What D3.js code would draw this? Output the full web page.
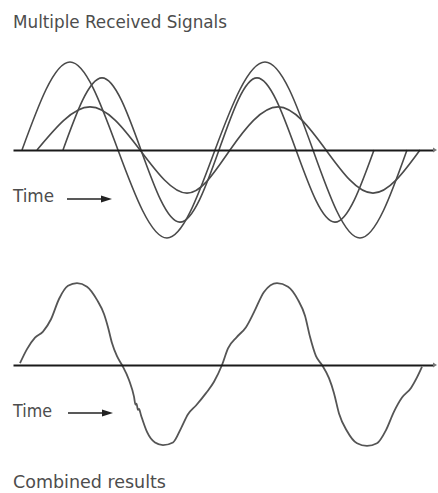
<!DOCTYPE html>
<html>
<head>
<meta charset="utf-8">
<script src="https://cdn.jsdelivr.net/npm/d3@7"></script>
<style>
  html, body { margin: 0; padding: 0; background: #fff; }
  svg { display: block; }
  .lbl { font-family: "DejaVu Sans Condensed", "Liberation Sans Narrow", "DejaVu Sans", sans-serif; font-stretch: condensed; fill: #4d4d4d; }
</style>
</head>
<body>
<svg id="chart" width="438" height="493"></svg>
<script>
// Time positions (ms) and amplitudes (V) of the key points of each received signal
const signalA = [[9,0],[57,1],[105,0],[154,-1],[202,0],[252,1],[300,0],[347,-1],[394,0]];
const signalB = [[50,0],[89,0.82],[128,0],[167,-0.82],[206,0],[244,0.82],[283,0],[322,-0.82],[361,0]];
const signalC = [[24,0],[77,0.49],[127,0],[174,-0.49],[217,0],[265,0.49],[313,0],[360,-0.49],[407,0]];

// Combined signal read at finer time steps
const combined = [
  [7,0.02],[14,0.18],[22,0.31],[30,0.38],[38,0.52],[46,0.75],[55,0.9],[64,0.93],[74,0.89],
  [84,0.74],[91,0.58],[95,0.43],[99,0.25],[104,0.1],[109,0],[116,-0.17],[121,-0.36],
  [122.5,-0.45],[123.5,-0.44],[125,-0.51],[126,-0.5],[128,-0.57],[134,-0.76],[142,-0.88],
  [150,-0.91],[160,-0.88],[168,-0.72],[175,-0.56],[183,-0.46],[193,-0.32],[201,-0.19],[209,0],
  [215,0.19],[224,0.32],[233,0.43],[241,0.6],[251,0.83],[264,0.93],[275,0.89],[285,0.74],
  [292,0.56],[297,0.32],[303,0.1],[309,0],[316,-0.15],[321,-0.32],[326,-0.55],[334,-0.75],
  [344,-0.89],[354,-0.92],[364,-0.89],[373,-0.74],[381,-0.53],[389,-0.37],[398,-0.26],
  [404,-0.14],[409,-0.02]
];

const timeDomain = [0, 420];
const ampDomain = [-1, 1];

const svg = d3.select("#chart");

const x = d3.scaleLinear().domain(timeDomain).range([13, 433]);
const yTop = d3.scaleLinear().domain(ampDomain).range([238, 62]);
const yBot = d3.scaleLinear().domain(ampDomain).range([453, 277]);

const lineTop = d3.line().x(d => x(d[0])).y(d => yTop(d[1])).curve(d3.curveNatural);
const lineBot = d3.line().x(d => x(d[0])).y(d => yBot(d[1])).curve(d3.curveMonotoneX);

// Received signals
[signalA, signalB, signalC].forEach(s => {
  svg.append("path").attr("d", lineTop(s))
    .attr("fill", "none").attr("stroke", "#4a4a4a").attr("stroke-width", 1.6);
});

// Combined signal
svg.append("path").attr("d", lineBot(combined))
  .attr("fill", "none").attr("stroke", "#555").attr("stroke-width", 1.8);

// Time axes (no ticks) with a small end mark
function timeAxis(yPos) {
  const g = svg.append("g").attr("transform", `translate(0,${yPos})`)
    .call(d3.axisBottom(x).tickValues([]).tickSizeOuter(0));
  g.select(".domain").attr("stroke", "#1a1a1a").attr("stroke-width", 2);
  g.append("path").attr("d", `M${x(timeDomain[1])},-2.5L${x(timeDomain[1]) + 4},0L${x(timeDomain[1])},2.5Z`)
    .attr("fill", "#777");
}
timeAxis(yTop(0));
timeAxis(yBot(0));

// Direction-of-time arrows
function timeArrow(x0, x1, yPos) {
  svg.append("line").attr("x1", x0).attr("x2", x1 - 8).attr("y1", yPos).attr("y2", yPos)
    .attr("stroke", "#222").attr("stroke-width", 1.6);
  svg.append("path").attr("d", `M${x1 - 11},${yPos - 3.5}L${x1},${yPos}L${x1 - 11},${yPos + 3.5}Z`)
    .attr("fill", "#222");
}
timeArrow(67, 112, 199);
timeArrow(68, 113, 413);

// Labels
function label(txt, xPos, yPos, size, width) {
  svg.append("text").attr("class", "lbl").attr("x", xPos).attr("y", yPos)
    .attr("font-size", size).attr("textLength", width).attr("lengthAdjust", "spacingAndGlyphs")
    .text(txt);
}
label("Multiple Received Signals", 13, 28, 17, 214);
label("Time", 13, 202, 18, 41);
label("Time", 13, 417, 18, 39);
label("Combined results", 13, 488, 18, 153);
</script>
</body>
</html>
